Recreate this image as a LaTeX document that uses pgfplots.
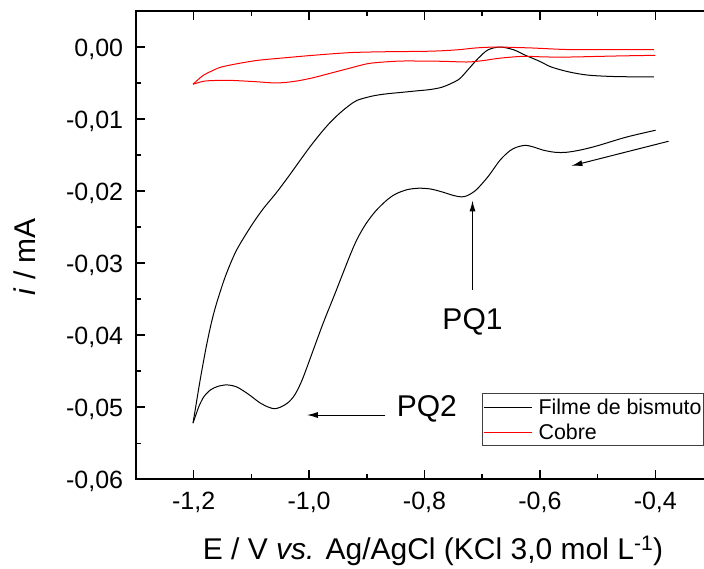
\documentclass[border=0pt]{standalone}
\usepackage{fontspec}
\setmainfont{Liberation Sans}
\usepackage{pgfplots}
\pgfplotsset{compat=1.18}
\usetikzlibrary{arrows.meta}
\begin{document}
\begin{tikzpicture}
\begin{axis}[
  scale only axis, width=577pt, height=468.3pt,
  xmin=-1.3, xmax=-0.3, ymin=-0.06, ymax=0.005,
  scaled ticks=false,
  xtick={-1.2,-1.0,-0.8,-0.6,-0.4},
  xticklabels={{-1,2},{-1,0},{-0,8},{-0,6},{-0,4}},
  ytick={-0.06,-0.05,-0.04,-0.03,-0.02,-0.01,0},
  yticklabels={{-0,06},{-0,05},{-0,04},{-0,03},{-0,02},{-0,01},{0,00}},
  minor x tick num=1, minor y tick num=1,
  ytick pos=left,
  tick align=inside,
  major tick length=9.3pt, minor tick length=5.3pt,
  tick style={black, line width=1.5pt},
  axis line style={line width=2pt},
  xticklabel style={font=\fontsize{25}{30}\selectfont, anchor=base, inner sep=0pt, yshift=-30.7pt},
  yticklabel style={font=\fontsize{25}{30}\selectfont, anchor=base east, inner sep=0pt, xshift=-12.7pt, yshift=-9pt},
  xlabel={E / V \textit{vs.} Ag/AgCl (KCl 3,0 mol L\textsuperscript{-1})},
  ylabel={\textit{i} / mA},
  every axis x label/.style={at={(axis description cs:0.5147,-0.1723)}, anchor=base, font=\fontsize{30}{36}\selectfont},
  every axis y label/.style={at={(axis description cs:-0.175,0.4747)}, rotate=90, anchor=base, font=\fontsize{30}{36}\selectfont},
  legend cell align=left,
  legend style={at={(axis cs:-0.701,-0.04807)}, anchor=north west, draw=black!75, line width=0.8pt,
    inner xsep=1pt, inner ysep=1pt, font=\fontsize{21.4}{25}\selectfont,
    nodes={inner xsep=0.6pt, inner ysep=4.7pt, text depth=0pt}},
  legend image code/.code={\draw[#1, line width=1pt] (0pt,0pt) -- (48pt,0pt); \path (54pt,0pt);},
]
\coordinate (SW) at (rel axis cs:0,0);
% Filme de bismuto: forward scan (-0.4 -> -1.2)
\addplot[black, line width=1pt, smooth] coordinates {
(-0.3995,-0.01155) (-0.4500,-0.01250) (-0.5000,-0.01370) (-0.5300,-0.01430) (-0.5550,-0.01462)
(-0.5750,-0.01460) (-0.5950,-0.01430) (-0.6100,-0.01390) (-0.6250,-0.01365) (-0.6400,-0.01390)
(-0.6520,-0.01440) (-0.6690,-0.01570) (-0.6900,-0.01800) (-0.7100,-0.01980) (-0.7250,-0.02060)
(-0.7360,-0.02080) (-0.7500,-0.02060) (-0.7700,-0.02010) (-0.7900,-0.01970) (-0.8100,-0.01960)
(-0.8300,-0.01980) (-0.8500,-0.02040) (-0.8660,-0.02130) (-0.8850,-0.02280) (-0.9020,-0.02460)
(-0.9170,-0.02670) (-0.9300,-0.02910) (-0.9550,-0.03420) (-0.9750,-0.03820) (-0.9930,-0.04210)
(-1.0120,-0.04620) (-1.0250,-0.04830) (-1.0370,-0.04940) (-1.0500,-0.05000) (-1.0600,-0.05020)
(-1.0700,-0.05000) (-1.0850,-0.04940) (-1.1050,-0.04820) (-1.1250,-0.04720) (-1.1420,-0.04690)
(-1.1580,-0.04710) (-1.1710,-0.04760) (-1.1820,-0.04850) (-1.1900,-0.04970) (-1.1960,-0.05100)
(-1.2012,-0.05220)
};
\addplot[black, line width=1pt, smooth, forget plot] coordinates {
(-1.2012,-0.05220) (-1.1960,-0.04970) (-1.1905,-0.04700) (-1.1850,-0.04450) (-1.1780,-0.04150)
(-1.1700,-0.03850) (-1.1612,-0.03580) (-1.1454,-0.03190) (-1.1264,-0.02830) (-1.1009,-0.02490)
(-1.0800,-0.02250) (-1.0565,-0.02020) (-1.0350,-0.01790) (-1.0153,-0.01570) (-0.9980,-0.01380)
(-0.9802,-0.01200) (-0.9650,-0.01060) (-0.9485,-0.00930) (-0.9320,-0.00820) (-0.9168,-0.00740)
(-0.8900,-0.00680) (-0.8660,-0.00650) (-0.8400,-0.00630) (-0.8153,-0.00610) (-0.7900,-0.00590)
(-0.7707,-0.00560) (-0.7550,-0.00510) (-0.7390,-0.00440) (-0.7230,-0.00300) (-0.7073,-0.00160)
(-0.6900,-0.00040) (-0.6690,0.00000) (-0.6450,-0.00040) (-0.6250,-0.00115) (-0.6000,-0.00200)
(-0.5804,-0.00277) (-0.5500,-0.00345) (-0.5168,-0.00390) (-0.4700,-0.00410) (-0.4026,-0.00416)
};
% Cobre
\addplot[red, line width=1pt, smooth] coordinates {
(-0.3997,-0.00115) (-0.4700,-0.00125) (-0.5486,-0.00139) (-0.5900,-0.00138) (-0.6248,-0.00129)
(-0.6500,-0.00140) (-0.6756,-0.00161) (-0.7000,-0.00190) (-0.7264,-0.00208) (-0.7707,-0.00198)
(-0.8343,-0.00194) (-0.8650,-0.00205) (-0.8977,-0.00230) (-0.9300,-0.00295) (-0.9612,-0.00360)
(-0.9950,-0.00430) (-1.0248,-0.00476) (-1.0565,-0.00499) (-1.0950,-0.00480) (-1.1390,-0.00462)
(-1.1650,-0.00465) (-1.1834,-0.00476) (-1.2012,-0.00517)
};
\addplot[red, line width=1pt, smooth, forget plot] coordinates {
(-1.2012,-0.00517) (-1.1920,-0.00450) (-1.1834,-0.00393) (-1.1680,-0.00330) (-1.1517,-0.00277)
(-1.1200,-0.00225) (-1.0880,-0.00184) (-1.0400,-0.00148) (-0.9930,-0.00115) (-0.9295,-0.00078)
(-0.8700,-0.00066) (-0.8026,-0.00060) (-0.7700,-0.00052) (-0.7390,-0.00036) (-0.7100,-0.00012)
(-0.6756,0.00000) (-0.6450,-0.00006) (-0.6120,-0.00014) (-0.5486,-0.00036) (-0.4800,-0.00036)
(-0.4026,-0.00036)
};
\legend{Filme de bismuto, Cobre}
% annotations
\draw[line width=1pt, -{Latex[length=11pt,width=6pt]}] (axis cs:-0.3771,-0.01308) -- (axis cs:-0.5454,-0.0165);
\draw[line width=1pt, -{Latex[length=11pt,width=6pt]}] (axis cs:-0.7168,-0.0337) -- (axis cs:-0.7168,-0.0213);
\draw[line width=1pt, -{Latex[length=11pt,width=6pt]}] (axis cs:-0.868,-0.05108) -- (axis cs:-1.0038,-0.05108);
\node[anchor=base, inner sep=0pt, font=\fontsize{30}{36}\selectfont] at (axis cs:-0.7168,-0.0392) {PQ1};
\node[anchor=base west, inner sep=0pt, font=\fontsize{30}{36}\selectfont] at (axis cs:-0.8482,-0.05122) {PQ2};
\end{axis}
\pgfresetboundingbox
\path[use as bounding box] ([shift={(-136pt,-89.7pt)}]SW) rectangle ([shift={(568pt,479.3pt)}]SW);
\end{tikzpicture}
\end{document}
